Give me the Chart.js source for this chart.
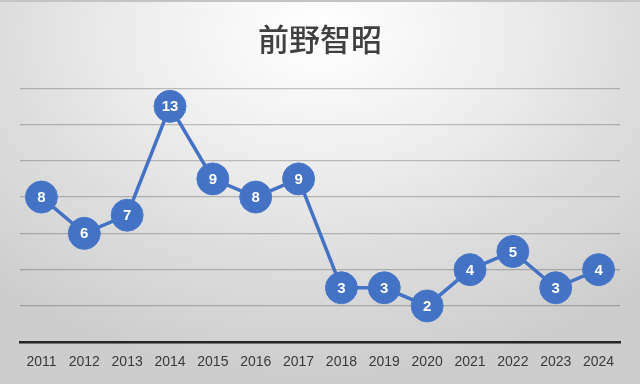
<!DOCTYPE html>
<html><head><meta charset="utf-8">
<script src="https://cdn.jsdelivr.net/npm/chart.js@4"></script>
<style>
html,body{margin:0;padding:0;}
#wrap{width:640px;height:384px;position:relative;box-sizing:border-box;border-top:2px solid #c4c4c4;
background:radial-gradient(ellipse 75% 90% at 50% 8%, #ffffff 0%, #f2f2f2 30%, #dedede 65%, #cdcdcd 100%);}
canvas{position:absolute;left:0;top:-2px;}
</style></head><body>
<div id="wrap"><canvas id="c" width="640" height="384"></canvas></div>
<script>
const years = ["2011","2012","2013","2014","2015","2016","2017","2018","2019","2020","2021","2022","2023","2024"];
const counts = [8,6,7,13,9,8,9,3,3,2,4,5,3,4];
const titleText = "前野智昭";

const labelPlugin = {
  id:'pointLabels',
  afterDatasetsDraw(chart){
    const ctx = chart.ctx;
    const meta = chart.getDatasetMeta(0);
    ctx.save();
    ctx.fillStyle = '#ffffff';
    ctx.font = 'bold 15px "Liberation Sans", Arial, sans-serif';
    ctx.textAlign = 'center';
    ctx.textBaseline = 'middle';
    meta.data.forEach((pt,i)=>{
      ctx.fillText(String(chart.data.datasets[0].data[i]), pt.x, pt.y+1);
    });
    ctx.restore();
  }
};

new Chart(document.getElementById('c'), {
  type:'line',
  data:{labels:years, datasets:[{
    data:counts,
    borderColor:'#4472C4',
    backgroundColor:'#4472C4',
    borderWidth:3.5,
    pointRadius:16,
    pointHoverRadius:16,
    pointBackgroundColor:'#4472C4',
    pointBorderColor:'#4a78c9',
    pointBorderWidth:1,
    tension:0,
    clip:false
  }]},
  options:{
    responsive:false,
    animation:false,
    events:[],
    layout:{padding:{left:20,right:20,top:0,bottom:1}},
    plugins:{
      legend:{display:false},
      tooltip:{enabled:false},
      title:{display:true,text:titleText,color:'#404040',
        font:{family:'"Noto Sans CJK JP", sans-serif',size:31,weight:500},
        padding:{top:21,bottom:30}}
    },
    scales:{
      x:{offset:true,
        grid:{display:false,drawTicks:false},
        border:{display:true,color:'#262626',width:2.5},
        ticks:{color:'#3a3a3a',padding:12,maxRotation:0,autoSkip:false,
          font:{family:'"Liberation Sans", Arial, sans-serif',size:14}}},
      y:{min:0,max:14,
        ticks:{display:false,stepSize:2},
        grid:{color:'rgba(0,0,0,0.22)',lineWidth:1.3,drawTicks:false},
        border:{display:false}}
    }
  },
  plugins:[labelPlugin]
});
</script>
</body></html>
